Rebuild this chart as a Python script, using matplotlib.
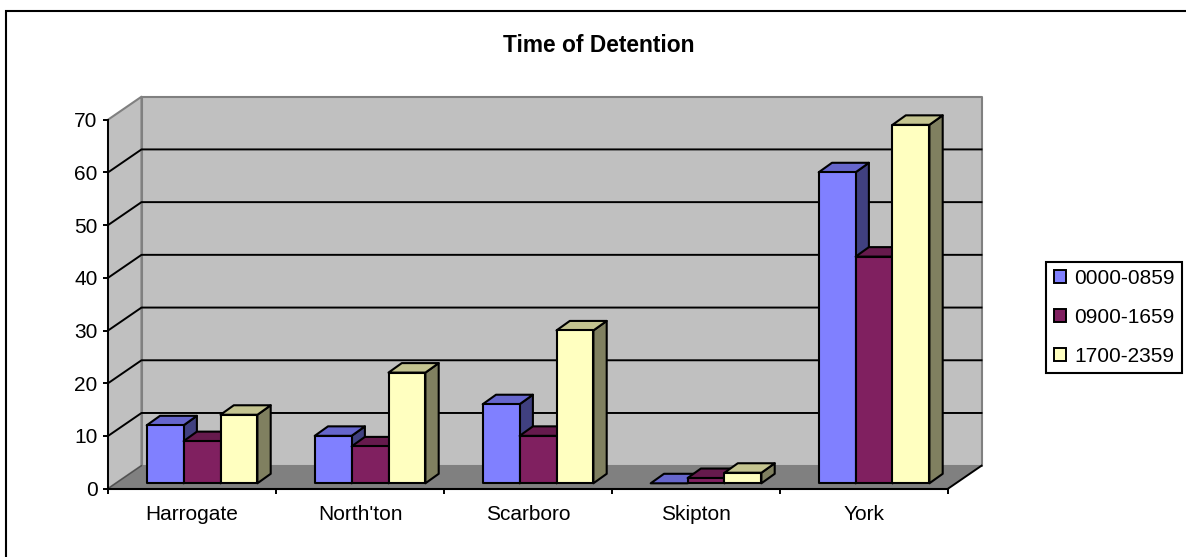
import matplotlib
matplotlib.use("Agg")
import matplotlib.pyplot as plt
from matplotlib.patches import Polygon, Patch, Rectangle

plt.rcParams["font.family"] = ["Liberation Sans", "DejaVu Sans"]

categories = ["Harrogate", "North'ton", "Scarboro", "Skipton", "York"]
series_names = ["0000-0859", "0900-1659", "1700-2359"]
early = [11, 9, 15, 0, 59]
day = [8, 7, 9, 1, 43]
late = [13, 21, 29, 2, 68]
yticks = [0, 10, 20, 30, 40, 50, 60, 70]

W, H = 1186, 557
FS = 15

# colours: front, top, side
colours = [("#8080FF", "#6666CC", "#404080"),
           ("#802060", "#661A4D", "#401030"),
           ("#FFFFC0", "#C4C490", "#808060")]

fig = plt.figure(figsize=(W / 100, H / 100), dpi=100)
fig.patch.set_facecolor("white")

# axes is the front plane of the 3D box
left, right, bottom, top = 108, 948, 488.7, 119.7
ax = fig.add_axes([left / W, 1 - bottom / H, (right - left) / W, (bottom - top) / H])
ax.set_xlim(0, 5)
ax.set_ylim(0, 70)
ax.patch.set_visible(False)

px_x = (right - left) / 5
px_y = (bottom - top) / 70

# box depth
DX = 33.5 / px_x
DY = 23 / px_y


def poly(pts, fc, ec="none", lw=0.0, z=1):
    ax.add_patch(Polygon(pts, closed=True, facecolor=fc, edgecolor=ec, linewidth=lw,
                         zorder=z, clip_on=False, joinstyle="round"))


poly([(0, 0), (DX, DY), (DX, 70 + DY), (0, 70)], "#C0C0C0", "#808080", 1.5)
poly([(DX, DY), (5 + DX, DY), (5 + DX, 70 + DY), (DX, 70 + DY)], "#C0C0C0", "#808080", 1.5)
poly([(0, 0), (5, 0), (5 + DX, DY), (DX, DY)], "#808080", z=1.5)

for v in yticks[1:-1]:
    ax.plot([0, DX, 5 + DX], [v, v + DY, v + DY], color="black", lw=1.4, zorder=2, clip_on=False)
ax.plot([0, DX], [0, DY], color="#505050", lw=1.0, zorder=2, clip_on=False)
ax.plot([5, 5 + DX], [0, DY], color="black", lw=1.4, zorder=2, clip_on=False)

# bars
bar_w = 36.9 / px_x
pad = 28.7 / px_x
front_dx = 10 / px_x
base = 5.4 / px_y
bar_dx = 13.3 / px_x
bar_dy = 9.5 / px_y

z = 3
for c in range(len(categories)):
    for s, vals in enumerate([early, day, late]):
        x0 = c + pad + front_dx + s * bar_w
        x1 = x0 + bar_w
        y0 = base
        y1 = base + vals[c]
        fr, tp, sd = colours[s]
        poly([(x1, y0), (x1 + bar_dx, y0 + bar_dy), (x1 + bar_dx, y1 + bar_dy), (x1, y1)], sd, "black", 1.5, z)
        poly([(x0, y1), (x1, y1), (x1 + bar_dx, y1 + bar_dy), (x0 + bar_dx, y1 + bar_dy)], tp, "black", 1.5, z)
        if vals[c] > 0:
            poly([(x0, y0), (x1, y0), (x1, y1), (x0, y1)], fr, "black", 1.5, z)
        z += 1

# axes lines and ticks
for name in ["top", "right"]:
    ax.spines[name].set_visible(False)
ax.spines["left"].set_linewidth(1.4)
ax.spines["left"].set_zorder(50)
ax.spines["bottom"].set_linewidth(1.5)
ax.spines["bottom"].set_zorder(50)
ax.set_yticks(yticks)
ax.set_xticks(range(6))
ax.set_xticklabels([])
ax.set_xticks([i + 0.5 for i in range(5)], labels=categories, minor=True)
ax.tick_params(axis="x", which="major", length=3.6, width=1.4)
ax.tick_params(axis="x", which="minor", length=0, pad=12, labelsize=FS)
ax.tick_params(axis="y", length=3.6, width=1.4, pad=4, labelsize=FS)

fig.text(598.5 / W, 1 - 46 / H, "Time of Detention", ha="center", va="center",
         fontsize=16.4, fontweight="bold")

# outer chart border runs off the right and bottom of the image
fig.add_artist(Rectangle((6 / W, -0.1), 1.2, 1.1 - 11 / H, transform=fig.transFigure,
                         facecolor="none", edgecolor="black", linewidth=1.5))

handles = [Patch(facecolor=c[0], edgecolor="black", linewidth=1.4) for c in colours]
leg = fig.legend(handles, series_names, loc="center left",
                 bbox_to_anchor=(1046 / W, 1 - 317.5 / H), fontsize=FS,
                 frameon=True, fancybox=False, edgecolor="black", framealpha=1,
                 handlelength=0.6, handleheight=0.6, handletextpad=0.4,
                 labelspacing=0.95, borderpad=0.36, borderaxespad=0)
leg.get_frame().set_linewidth(1.5)

fig.savefig("out.png", dpi=100)
plt.close(fig)
